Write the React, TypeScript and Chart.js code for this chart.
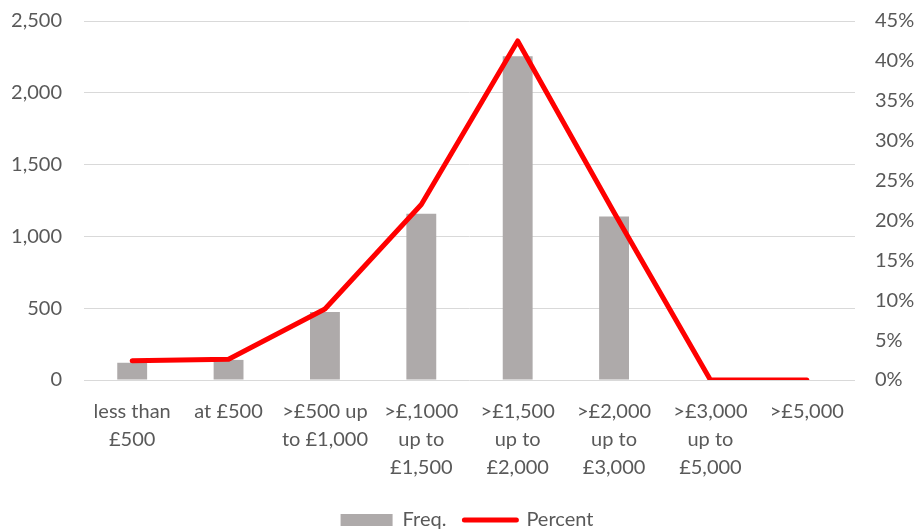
import React, { useEffect, useRef } from "react";
import { Chart, registerables } from "chart.js";

Chart.register(...registerables);

const categories: string[][] = [
  ["less than", "£500"],
  ["at £500"],
  [">£500 up", "to £1,000"],
  [">£,1000", "up to", "£1,500"],
  [">£1,500", "up to", "£2,000"],
  [">£2,000", "up to", "£3,000"],
  [">£3,000", "up to", "£5,000"],
  [">£5,000"],
];
const freq: number[] = [120, 140, 473, 1158, 2255, 1138, 0, 0];
const percent: number[] = [0.024, 0.026, 0.089, 0.22, 0.425, 0.21, 0, 0];
const leftTicks: number[] = [0, 500, 1000, 1500, 2000, 2500];
const rightTicks: number[] = [0, 0.05, 0.1, 0.15, 0.2, 0.25, 0.3, 0.35, 0.4, 0.45];

const FONT = "Lato";
const TXT = "#595959";
const BAR = "#AEAAAA";
const RED = "#FF0000";

export default function App() {
  const ref = useRef<HTMLCanvasElement>(null);
  useEffect(() => {
    document.body.style.margin = "0";
    document.body.style.overflow = "hidden";
    const ctx = ref.current!.getContext("2d")!;
    const chart = new Chart(ctx, {
      type: "bar",
      data: {
        labels: categories,
        datasets: [
          {
            type: "line",
            label: "Percent",
            data: percent,
            yAxisID: "y1",
            borderColor: RED,
            backgroundColor: RED,
            borderWidth: 5,
            pointRadius: 0,
            borderCapStyle: "round",
            borderJoinStyle: "round",
            tension: 0,
            order: 0,
          },
          {
            type: "bar",
            label: "Freq.",
            data: freq,
            yAxisID: "y",
            backgroundColor: BAR,
            borderWidth: 0,
            categoryPercentage: 1,
            barPercentage: 0.31,
            order: 1,
          },
        ],
      },
      options: {
        animation: false,
        responsive: false,
        maintainAspectRatio: false,
        layout: { autoPadding: false, padding: { left: 12, right: 0, top: 21, bottom: 0 } },
        plugins: {
          tooltip: { enabled: false },
          legend: {
            position: "bottom",
            labels: {
              usePointStyle: true,
              pointStyleWidth: 52,
              boxHeight: 12,
              padding: 18,
              color: TXT,
              font: { family: FONT, size: 20 },
              generateLabels: () => [
                {
                  text: "Freq.",
                  fillStyle: BAR,
                  strokeStyle: BAR,
                  lineWidth: 0,
                  pointStyle: "rect",
                  datasetIndex: 1,
                  hidden: false,
                  fontColor: TXT,
                },
                {
                  text: "Percent",
                  fillStyle: RED,
                  strokeStyle: RED,
                  lineWidth: 5,
                  lineCap: "round",
                  pointStyle: "line",
                  datasetIndex: 0,
                  hidden: false,
                  fontColor: TXT,
                },
              ],
            },
          },
        },
        scales: {
          x: {
            grid: { display: false },
            border: { display: false },
            afterFit: (s: any) => {
              s.paddingLeft = 0;
              s.paddingRight = 0;
            },
            ticks: {
              color: TXT,
              font: { family: FONT, size: 20, lineHeight: 1.4 },
              maxRotation: 0,
              autoSkip: false,
              padding: 10,
            },
          },
          y: {
            position: "left",
            min: 0,
            max: 2500,
            afterBuildTicks: (s: any) => {
              s.ticks = leftTicks.map((v) => ({ value: v }));
            },
            afterFit: (s: any) => {
              s.width = 72;
              s.paddingTop = 0;
              s.paddingBottom = 0;
            },
            grid: { color: "#D9D9D9", lineWidth: 1, drawTicks: false },
            border: { display: false },
            ticks: {
              color: TXT,
              font: { family: FONT, size: 20 },
              padding: 22,
              callback: (v: any) => Number(v).toLocaleString("en-US"),
            },
          },
          y1: {
            position: "right",
            min: 0,
            max: 0.45,
            afterBuildTicks: (s: any) => {
              s.ticks = rightTicks.map((v) => ({ value: v }));
            },
            afterFit: (s: any) => {
              s.width = 67;
              s.paddingTop = 0;
              s.paddingBottom = 0;
            },
            grid: { display: false, drawTicks: false },
            border: { display: false },
            ticks: {
              color: TXT,
              font: { family: FONT, size: 20 },
              padding: 20,
              callback: (v: any) => Math.round(Number(v) * 100) + "%",
            },
          },
        },
      },
    });
    return () => chart.destroy();
  }, []);
  return <canvas ref={ref} width={922} height={540} style={{ display: "block" }} />;
}
